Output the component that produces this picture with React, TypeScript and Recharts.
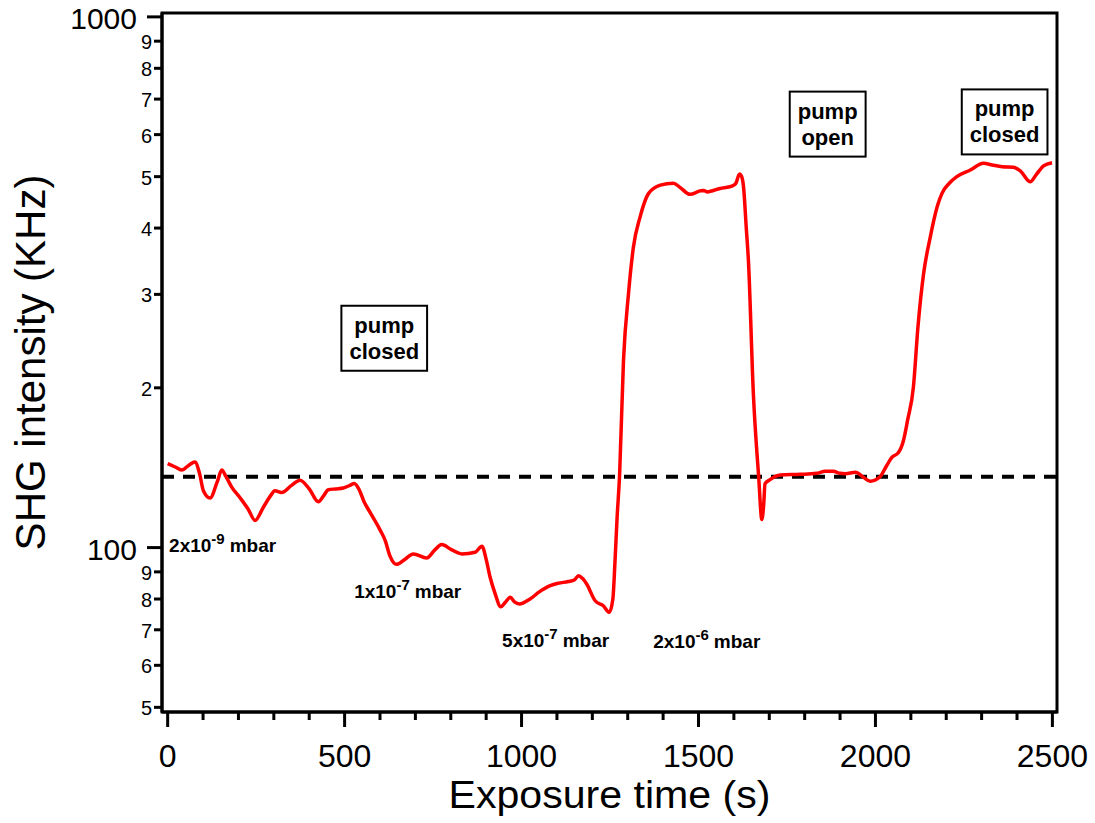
import {
  Label,
  Line,
  LineChart,
  ReferenceArea,
  ReferenceDot,
  ReferenceLine,
  XAxis,
  YAxis,
} from "recharts";

// exposure time (s) and SHG intensity (kHz)
const times = [
  0, 20, 40, 60, 77, 90, 101, 120, 140, 153, 165, 181, 205, 228, 247, 270,
  290, 303, 322, 350, 374, 400, 426, 440, 454, 475, 496, 515, 527, 540, 555,
  572, 600, 615, 628, 647, 670, 694, 732, 755, 774, 803, 831, 869, 888, 900,
  911, 925, 941, 955, 968, 980, 994, 1024, 1050, 1081, 1105, 1132, 1150, 1161,
  1172, 1184, 1208, 1231, 1248, 1258, 1264, 1270, 1277, 1288, 1302, 1316,
  1335, 1359, 1392, 1429, 1448, 1476, 1505, 1515, 1524, 1561, 1594, 1605,
  1616, 1622, 1627, 1635, 1641, 1655, 1670, 1679, 1684, 1688, 1700, 1731,
  1787, 1834, 1858, 1881, 1900, 1915, 1943, 1966, 1985, 2013, 2030, 2047,
  2065, 2079, 2091, 2107, 2120, 2136, 2155, 2175, 2188, 2210, 2230, 2268,
  2305, 2330, 2358, 2390, 2410, 2437, 2455, 2475, 2499,
];
const shg = [
  144, 142, 140, 143, 145, 138, 128, 124, 133, 140, 136, 130, 124, 118, 112.5,
  119, 125, 128, 127, 131, 134, 129, 122, 125, 128.5, 129, 129.5, 131, 132,
  129, 122, 116.5, 108, 103, 96.5, 93, 95, 97.3, 95.6, 99, 101.3, 99, 97.3,
  98, 100.6, 95, 88, 82, 77.4, 79, 80.6, 79, 78.3, 80, 82.5, 84.8, 85.7, 86.3,
  87, 88.5, 87.5, 85.4, 79.4, 77.7, 75.5, 80, 94, 114, 137, 225, 300, 368,
  420, 465, 482, 486, 477, 463, 470, 471, 468, 475, 480, 485, 506, 500, 480,
  400, 348, 195, 136, 113, 120, 132, 134, 137, 137.4, 138, 139.3, 139.3, 138,
  137.8, 138.6, 135.7, 133.4, 136, 142, 148, 151, 159, 174, 200, 260, 328,
  385, 440, 465, 487, 500, 514.5, 530, 526, 522, 521, 512, 489, 505, 524, 531,
];
const baseline = 136;

const xTicks = [
  0, 100, 200, 300, 400, 500, 600, 700, 800, 900, 1000, 1100, 1200, 1300,
  1400, 1500, 1600, 1700, 1800, 1900, 2000, 2100, 2200, 2300, 2400, 2500,
];
const yTicks = [50, 60, 70, 80, 90, 100, 200, 300, 400, 500, 600, 700, 800, 900, 1000];

const pumpNotes = [
  { x: 612, y: 248, lines: ["pump", "closed"] },
  { x: 1865, y: 628, lines: ["pump", "open"] },
  { x: 2365, y: 634, lines: ["pump", "closed"] },
];
const pressureNotes = [
  { x: 4, y: 98, base: "2x10", exp: "-9" },
  { x: 527, y: 80.4, base: "1x10", exp: "-7" },
  { x: 945, y: 65, base: "5x10", exp: "-7" },
  { x: 1372, y: 64.8, base: "2x10", exp: "-6" },
];

const data = times.map((t, i) => ({ t, v: shg[i] }));

const font = "'Liberation Sans', Arial, sans-serif";

function textWidth(s: string, css: string) {
  const ctx = document.createElement("canvas").getContext("2d");
  if (!ctx) return s.length * 12;
  ctx.font = css;
  return ctx.measureText(s).width;
}

const XTick = ({ x, y, payload }: any) => {
  const major = payload.value % 500 === 0;
  return (
    <g>
      <line x1={x} x2={x} y1={y} y2={y + (major ? 15 : 8)} stroke="#000" strokeWidth={3} />
      {major && (
        <text x={x} y={y + 55} textAnchor="middle" fontSize={32} fontFamily={font} fill="#000">
          {payload.value}
        </text>
      )}
    </g>
  );
};

const YTick = ({ x, y, payload }: any) => {
  const v = payload.value;
  const major = v === 100 || v === 1000;
  const label = major ? String(v) : String(Math.round(v / (v < 100 ? 10 : 100)));
  return (
    <g>
      <line x1={x - (major ? 15 : 8)} x2={x} y1={y} y2={y} stroke="#000" strokeWidth={3} />
      <text
        x={x - (major ? 25 : 10)}
        y={y + (major ? 12 : 8)}
        textAnchor="end"
        fontSize={major ? 30 : 20}
        fontFamily={font}
        fill="#000"
      >
        {label}
      </text>
    </g>
  );
};

const PumpBox = ({ cx, cy, lines }: any) => {
  const css = `bold 22px ${font}`;
  const w = Math.max(...lines.map((l: string) => textWidth(l, css))) + 16;
  const h = 65;
  return (
    <g>
      <rect x={cx - w / 2} y={cy - h / 2} width={w} height={h} fill="#fff" stroke="#000" strokeWidth={2} />
      {lines.map((l: string, i: number) => (
        <text
          key={l}
          x={cx}
          y={cy - h / 2 + 27 + i * 26}
          textAnchor="middle"
          fontSize={22}
          fontWeight="bold"
          fontFamily={font}
          fill="#000"
        >
          {l}
        </text>
      ))}
    </g>
  );
};

const PressureLabel = ({ cx, cy, base, exp }: any) => (
  <text x={cx} y={cy} fontSize={19} fontWeight="bold" fontFamily={font} fill="#000">
    {base}
    <tspan dy={-8} fontSize={15}>
      {exp}
    </tspan>
    <tspan dy={8} dx={5} fontSize={19}>
      mbar
    </tspan>
  </text>
);

const App = () => {
  const xDomain = [-16, 2513];
  const yDomain = [49, 1017];
  return (
    <div style={{ position: "absolute", left: 0, top: 0 }}>
      <LineChart
        width={1095}
        height={823}
        data={data}
        margin={{ top: 13, right: 38, bottom: 110, left: 161 }}
      >
        <XAxis
          dataKey="t"
          type="number"
          domain={xDomain}
          ticks={xTicks}
          interval={0}
          allowDataOverflow
          height={1}
          tickSize={0}
          tickMargin={0}
          tickLine={false}
          tick={<XTick />}
          axisLine={{ stroke: "#000", strokeWidth: 3 }}
        >
          <Label
            content={({ viewBox }: any) => (
              <text
                x={viewBox.x + viewBox.width / 2}
                y={viewBox.y + 96}
                textAnchor="middle"
                fontSize={38}
                textLength={322}
                lengthAdjust="spacingAndGlyphs"
                fontFamily={font}
                fill="#000"
              >
                Exposure time (s)
              </text>
            )}
          />
        </XAxis>
        <YAxis
          type="number"
          scale="log"
          domain={yDomain}
          ticks={yTicks}
          interval={0}
          allowDataOverflow
          width={1}
          tickSize={0}
          tickMargin={0}
          tickLine={false}
          tick={<YTick />}
          axisLine={{ stroke: "#000", strokeWidth: 3 }}
        >
          <Label
            content={({ viewBox }: any) => {
              const tx = viewBox.x + viewBox.width - 117;
              const ty = viewBox.y + viewBox.height / 2;
              return (
                <text
                  x={tx}
                  y={ty}
                  transform={`rotate(-90 ${tx} ${ty})`}
                  textAnchor="middle"
                  fontSize={42}
                  fontFamily={font}
                  fill="#000"
                >
                  SHG intensity (KHz)
                </text>
              );
            }}
          />
        </YAxis>
        <ReferenceArea
          x1={xDomain[0]}
          x2={xDomain[1]}
          y1={yDomain[0]}
          y2={yDomain[1]}
          fill="none"
          stroke="#000"
          strokeWidth={3}
        />
        <ReferenceLine y={baseline} stroke="#000" strokeWidth={4} strokeDasharray="12 9" />
        <Line
          type="monotone"
          dataKey="v"
          stroke="#ff0000"
          strokeWidth={3.5}
          dot={false}
          isAnimationActive={false}
        />
        {pumpNotes.map((n, i) => (
          <ReferenceDot
            key={"p" + i}
            x={n.x}
            y={n.y}
            r={0}
            shape={(p: any) => <PumpBox {...p} lines={n.lines} />}
          />
        ))}
        {pressureNotes.map((n, i) => (
          <ReferenceDot
            key={"m" + i}
            x={n.x}
            y={n.y}
            r={0}
            shape={(p: any) => <PressureLabel {...p} base={n.base} exp={n.exp} />}
          />
        ))}
      </LineChart>
    </div>
  );
};

export default App;
